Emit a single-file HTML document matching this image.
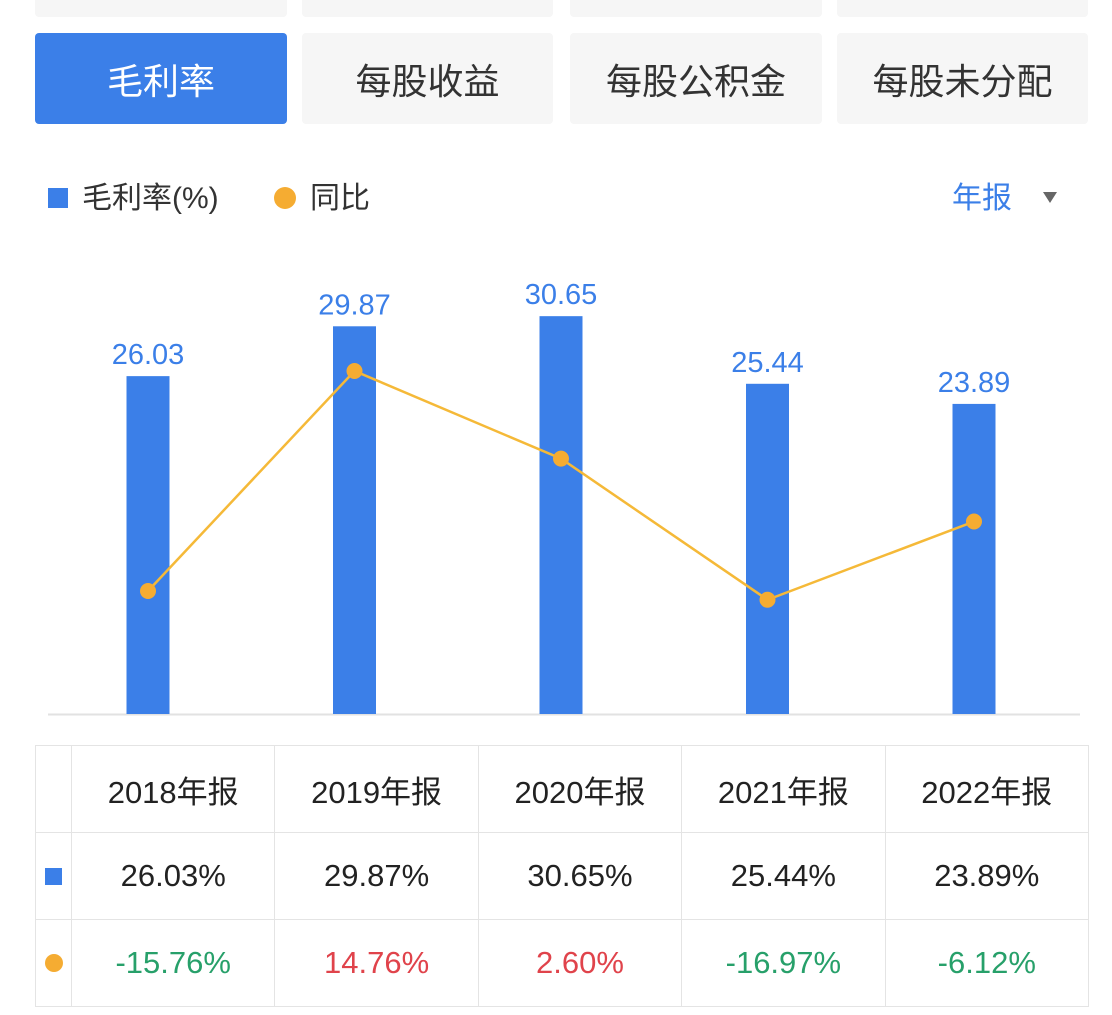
<!DOCTYPE html>
<html><head><meta charset="utf-8"><style>
body{margin:0;width:1112px;height:1015px;background:#fff;font-family:"Liberation Sans","Noto Sans CJK SC",sans-serif;position:relative;overflow:hidden}
.tab{position:absolute;height:91px;top:33px;background:#f6f6f6;border-radius:4px;font-size:36px;color:#333;display:flex;align-items:center;justify-content:center}
.tab.top{top:-20px;height:37px}
.act{background:#3b7fe8;color:#fff}
table{position:absolute;left:35px;top:745px;border-collapse:collapse;width:1054px}
td{border:1px solid #e4e4e4;text-align:center;font-size:31px;color:#222;height:86px;padding:0}
</style></head><body>
<div class="tab top" style="left:35px;width:252px"></div>
<div class="tab top" style="left:302px;width:251px"></div>
<div class="tab top" style="left:570px;width:252px"></div>
<div class="tab top" style="left:837px;width:251px"></div>
<div class="tab act" style="left:35px;width:252px">毛利率</div>
<div class="tab" style="left:302px;width:251px">每股收益</div>
<div class="tab" style="left:570px;width:252px">每股公积金</div>
<div class="tab" style="left:837px;width:251px">每股未分配</div>
<div style="position:absolute;left:48px;top:188px;width:20px;height:20px;background:#3b7fe8"></div>
<div style="position:absolute;left:82px;top:173px;font-size:30px;color:#333">毛利率(%)</div>
<div style="position:absolute;left:274px;top:187px;width:22px;height:22px;border-radius:50%;background:#f5ac32"></div>
<div style="position:absolute;left:310px;top:173px;font-size:30px;color:#333">同比</div>
<div style="position:absolute;left:952px;top:173px;font-size:30px;color:#3b7fe8">年报</div>
<div style="position:absolute;left:1043px;top:192px;width:0;height:0;border-left:7px solid transparent;border-right:7px solid transparent;border-top:11px solid #666"></div>
<svg id="chart" width="1112" height="740" style="position:absolute;left:0;top:0"></svg>
<table>
<tr><td style="width:35px"></td><td>2018年报</td><td>2019年报</td><td>2020年报</td><td>2021年报</td><td>2022年报</td></tr>
<tr style="font-weight:500"><td><div style="width:17px;height:17px;background:#3b7fe8;margin:auto"></div></td><td>26.03%</td><td>29.87%</td><td>30.65%</td><td>25.44%</td><td>23.89%</td></tr>
<tr><td><div style="width:18px;height:18px;border-radius:50%;background:#f5ac32;margin:auto"></div></td><td style="color:#27a06a">-15.76%</td><td style="color:#e0434b">14.76%</td><td style="color:#e0434b">2.60%</td><td style="color:#27a06a">-16.97%</td><td style="color:#27a06a">-6.12%</td></tr>
</table>
<script>
const categories=["2018年报","2019年报","2020年报","2021年报","2022年报"];
const margin=[26.03,29.87,30.65,25.44,23.89];
const yoy=[-15.76,14.76,2.60,-16.97,-6.12];
const NS="http://www.w3.org/2000/svg";
const svg=document.getElementById('chart');
const xc=i=>148+i*206.5;
const yBar=v=>714-v*12.98;
const yLine=v=>477.4-v*7.21;
function mk(t,a){const e=document.createElementNS(NS,t);for(const k in a)e.setAttribute(k,a[k]);svg.appendChild(e);return e;}
const ax=mk('line',{x1:48,x2:1080,y1:714.5,y2:714.5,stroke:'#e2e2e2','stroke-width':2});


margin.forEach((v,i)=>{
 const r=mk('rect',{x:xc(i)-21.5,y:yBar(v),width:43,height:714-yBar(v),fill:'#3b7fe8'});
 
 
 const t=mk('text',{x:xc(i),y:yBar(v)-12,'text-anchor':'middle','font-size':29,fill:'#3b7fe8'});
 t.textContent=v.toFixed(2);
 
 
});
const pl=mk('polyline',{points:yoy.map((v,i)=>xc(i)+','+yLine(v)).join(' '),fill:'none',stroke:'#f5b938','stroke-width':2.5});


yoy.forEach((v,i)=>{
 const c=mk('circle',{cx:xc(i),cy:yLine(v),r:8,fill:'#f5ac32'});
 
 
});
</script>
</body></html>
